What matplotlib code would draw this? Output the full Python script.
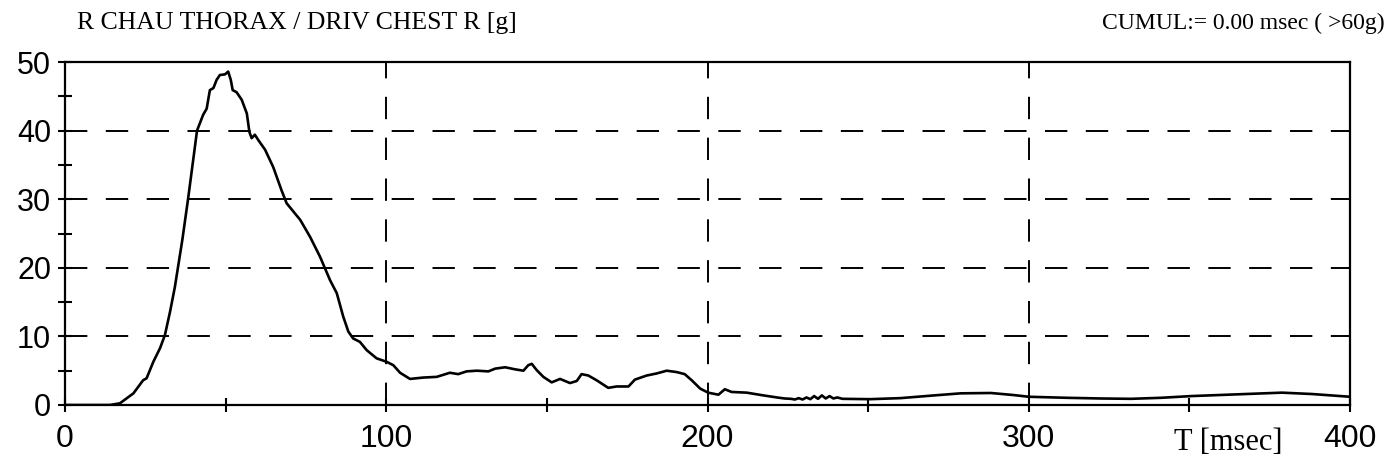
import matplotlib.pyplot as plt
from matplotlib.ticker import MultipleLocator

# chest acceleration trace, time in msec, acceleration in g
t_ms = [0, 10, 14, 17.1, 21.3, 24.3, 25.4, 27.5, 29.6, 31.1, 32.7, 34.2, 36.5, 38.3,
        41.1, 43.0, 44.1, 45.1, 46.2, 47.2, 48.2, 49.8, 50.8, 51.6, 52.2, 53.4, 55.0,
        56.6, 57.4, 58.1, 59.1, 60.2, 62.3, 64.8, 67.4, 69.0, 73.2, 76.3, 79.4, 82.5,
        84.6, 86.6, 88.2, 89.7, 91.8, 93.9, 97.0, 100.1, 102.2, 104.3, 107.4, 111.5,
        115.7, 119.8, 122.4, 125.0, 128.2, 131.8, 133.9, 137.0, 140.1, 142.7, 144.2,
        145.3, 146.8, 148.9, 151.5, 154.1, 157.2, 159.3, 160.8, 162.9, 165.5, 169.1,
        171.7, 175.4, 177.4, 181.1, 184.2, 187.3, 190.4, 192.9, 195.1, 197.7, 200.2,
        203.4, 205.4, 207.5, 212.2, 217.4, 221.6, 224.0, 226.0, 227.2, 228.4, 229.6,
        230.8, 232.0, 233.2, 234.4, 235.6, 236.8, 238.0, 239.2, 240.4, 242.0, 250.6,
        260.0, 270.6, 278.8, 288.2, 295.3, 300.0, 311.8, 322.4, 331.8, 341.2, 350.6,
        364.7, 378.8, 388.2, 400.0]
acc_g = [0, 0, 0, 0.25, 1.7, 3.6, 3.9, 6.3, 8.3, 10.2, 13.6, 17.2, 24.0, 30.0,
         40.0, 42.3, 43.2, 45.9, 46.2, 47.4, 48.1, 48.2, 48.6, 47.4, 45.9, 45.6, 44.5,
         42.5, 39.8, 38.9, 39.4, 38.6, 37.2, 34.7, 31.3, 29.4, 27.0, 24.5, 21.6, 18.2,
         16.3, 12.9, 10.7, 9.7, 9.2, 8.0, 6.8, 6.3, 5.8, 4.7, 3.8, 4.0,
         4.1, 4.7, 4.5, 4.9, 5.0, 4.9, 5.3, 5.5, 5.2, 5.0, 5.8,
         6.0, 5.1, 4.1, 3.3, 3.8, 3.2, 3.5, 4.5, 4.3, 3.6, 2.5,
         2.7, 2.7, 3.7, 4.3, 4.6, 5.0, 4.8, 4.5, 3.6, 2.4, 1.8,
         1.5, 2.3, 1.9, 1.8, 1.4, 1.1, 0.95, 0.9, 0.8, 1.0, 0.8,
         1.1, 0.85, 1.3, 0.9, 1.4, 0.95, 1.3, 0.95, 1.1, 0.9, 0.85,
         1.0, 1.4, 1.7, 1.75, 1.45, 1.2, 1.05, 0.95, 0.9, 1.05, 1.3,
         1.55, 1.8, 1.6, 1.2]

x_major = [0, 100, 200, 300, 400]
y_major = [0, 10, 20, 30, 40, 50]

fig = plt.figure(figsize=(13.94, 4.70), dpi=100)
ax = fig.add_axes([65 / 1394, 1 - 405 / 470, 1285 / 1394, 343 / 470])

ax.plot(t_ms, acc_g, color='black', lw=1.9)

ax.set_xlim(0, 400)
ax.set_ylim(0, 50)
ax.set_xticks(x_major)
ax.set_yticks(y_major)
ax.xaxis.set_minor_locator(MultipleLocator(50))
ax.yaxis.set_minor_locator(MultipleLocator(5))

for s in ax.spines.values():
    s.set_linewidth(1.6)

ax.tick_params(which='both', direction='inout', length=10, width=1.5, color='black')
ax.tick_params(axis='y', labelsize=22, pad=5)
ax.tick_params(axis='x', labelsize=23, pad=9)
for lab in ax.get_xticklabels() + ax.get_yticklabels():
    lab.set_fontfamily('Liberation Sans')

# dashed reference grid at the major ticks
for y in y_major[1:-1]:
    ax.axhline(y, color='black', lw=1.4, dashes=(11.5, 9.5), zorder=1)
for x in x_major[1:-1]:
    ax.axvline(x, color='black', lw=1.4, dashes=(11.5, 9.5), zorder=1)

fig.text(77 / 1394, 1 - 23 / 470, 'R CHAU THORAX / DRIV CHEST R [g]',
         family='Liberation Serif', fontsize=18.5, va='center', ha='left')
fig.text(1385 / 1394, 1 - 23 / 470, 'CUMUL:= 0.00 msec ( >60g)',
         family='Liberation Serif', fontsize=17, va='center', ha='right')
fig.text(1283 / 1394, 1 - 442 / 470, 'T [msec]',
         family='Liberation Serif', fontsize=22, va='center', ha='right')

fig.savefig('out.png', dpi=100)
